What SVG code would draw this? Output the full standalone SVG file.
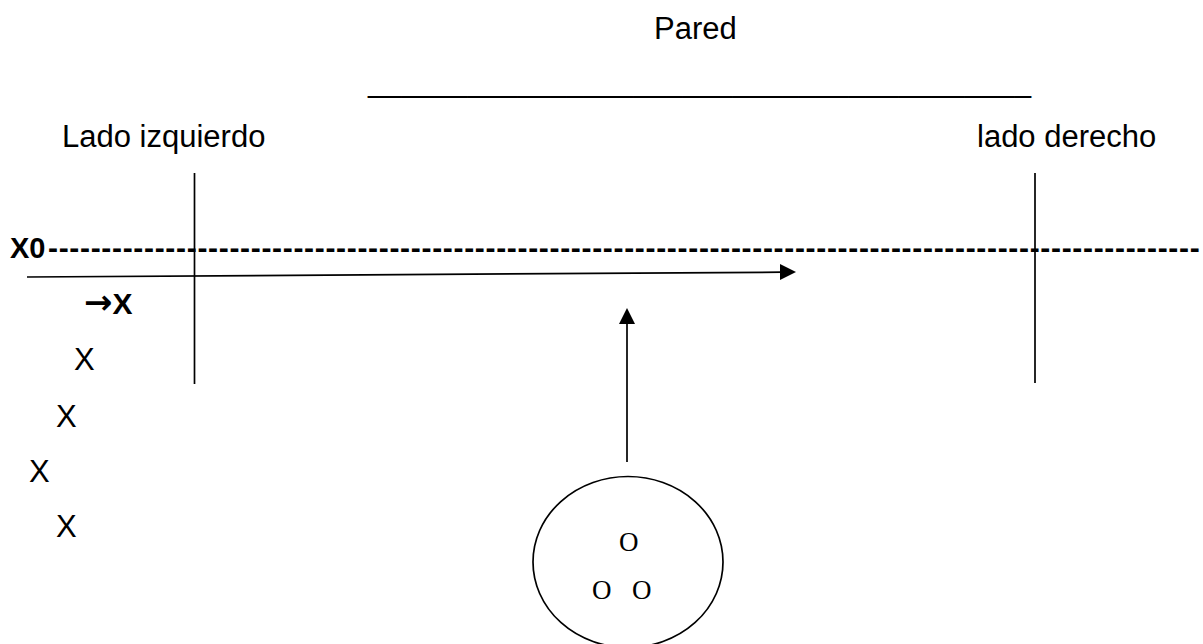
<svg xmlns="http://www.w3.org/2000/svg" width="1203" height="644" viewBox="0 0 1203 644">
<style>
.t{font-family:"Liberation Sans",Arial,sans-serif;font-size:31px;fill:#000}
.b{font-family:"Liberation Sans",Arial,sans-serif;font-weight:bold;fill:#000}
.s{font-family:"Liberation Serif","Times New Roman",serif;font-size:27px;fill:#000}
.ln{stroke:#000;stroke-width:1.7;fill:none}
</style>
<rect width="1203" height="644" fill="#fff"/>
<g id="titulo">
<text class="t" x="654" y="39">Pared</text>
<text class="t" x="368" y="92" textLength="663" lengthAdjust="spacingAndGlyphs">________________________________________</text>
</g>
<g id="lado-izquierdo">
<text class="t" x="62" y="147">Lado izquierdo</text>
<line class="ln" x1="194.5" y1="173" x2="194.5" y2="384"/>
</g>
<g id="lado-derecho">
<text class="t" x="977" y="147">lado derecho</text>
<line class="ln" x1="1035" y1="173" x2="1035" y2="383"/>
</g>
<g id="linea-x0">
<text class="b" x="10" y="258" font-size="29">X0<tspan x="48" font-size="30" letter-spacing="0.68">------------------------------------------------------------------------------------------------------------</tspan></text>
</g>
<g id="jugadores">
<text class="b" x="84" y="314" font-size="30"><tspan font-family="'DejaVu Sans',sans-serif" font-size="34">→</tspan>X</text>
<text class="t" x="74" y="370">X</text>
<text class="t" x="56" y="427">X</text>
<text class="t" x="29" y="482">X</text>
<text class="t" x="56" y="537">X</text>
</g>
<g id="circulo">
<ellipse class="ln" cx="628" cy="562" rx="95" ry="85.5"/>
<text class="s" x="619" y="551">O</text>
<text class="s" x="592" y="599" word-spacing="13.7">O O</text>
</g>
<g id="conectores">
<line class="ln" x1="27" y1="277" x2="782" y2="272.2"/>
<polygon points="796,272 780,264 780,280" fill="#000"/>
<line class="ln" x1="627" y1="462" x2="627" y2="322"/>
<polygon points="627,308 619,324 635,324" fill="#000"/>
</g>
</svg>
